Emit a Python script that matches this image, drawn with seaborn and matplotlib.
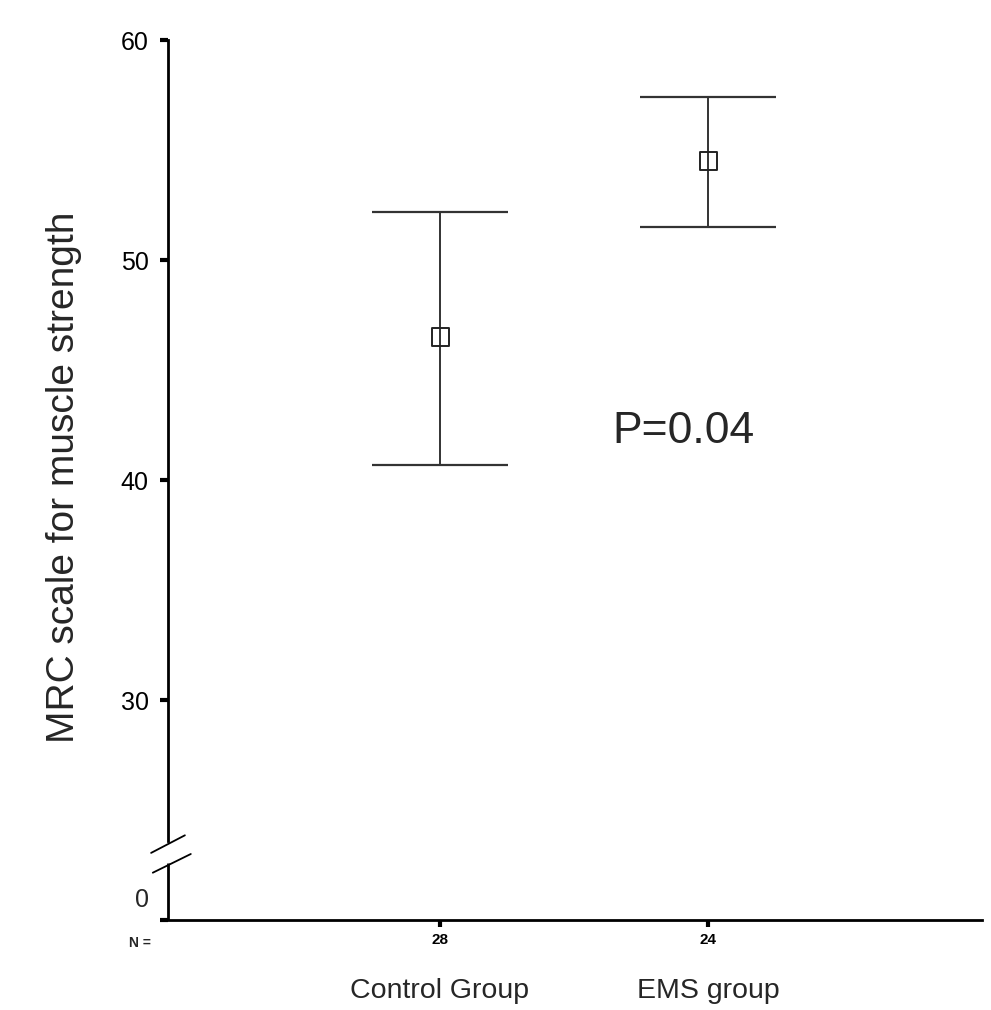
import matplotlib
matplotlib.use("Agg")
import matplotlib.pyplot as plt
import seaborn as sns
import pandas as pd
import numpy as np

# ---- data ----
groups = ["Control Group", "EMS group"]
n_values = ["28", "24"]
means = [46.5, 54.5]
ci_low = [40.7, 51.5]
ci_high = [52.2, 57.4]
ytick_values = [30, 40, 50, 60]
ytick_labels = ["30", "40", "50", "60"]
p_text = "P=0.04"
ylabel = "MRC scale for muscle strength"

sns.set_theme(style="white")
plt.rcParams['font.family'] = ['Liberation Sans', 'DejaVu Sans']

fig = plt.figure(figsize=(9.91, 10.10), dpi=100)
ax = fig.add_axes([168/991, 1-920/1010, (982-168)/991, 880/1010])

df = pd.DataFrame({"group": groups, "mean": means})
pos = np.arange(len(groups))
lo = np.array(means) - np.array(ci_low)
hi = np.array(ci_high) - np.array(means)
ax.errorbar(pos, means, yerr=[lo, hi], fmt="none", ecolor="#333333",
            elinewidth=1.4, capsize=49, capthick=1.6, zorder=2)
sns.scatterplot(data=df, x="group", y="mean", marker="s", s=150,
                facecolor="none", edgecolor="#222222", linewidth=1.4, ax=ax, zorder=3)

ax.set_xlim(-1.015, 2.022)
ax.set_ylim(20, 60)

for s in ["top", "right"]:
    ax.spines[s].set_visible(False)
ax.spines["left"].set_bounds(23.6, 60)
ax.spines["left"].set_linewidth(2)
ax.spines["bottom"].set_linewidth(2)
ax.spines["left"].set_color("black")
ax.spines["bottom"].set_color("black")
# lower piece of left spine below the break
ax.plot([-1.015, -1.015], [20, 22.6], color="black", lw=2, clip_on=False, solid_capstyle="butt")
# break marks
x0 = -1.015
dx = 0.063
ax.plot([x0 - dx, x0 + dx], [23.05, 23.85], color="black", lw=1.3, clip_on=False)
ax.plot([x0 - dx*0.9, x0 + dx*1.35], [22.15, 23.0], color="black", lw=1.3, clip_on=False)

ax.set_yticks(ytick_values + [20])
ax.set_yticklabels(ytick_labels + [""], fontsize=18)
ax.tick_params(axis="y", direction="out", length=6, width=3, pad=8, left=True, colors="black")
ax.text(-1.085, 20.9, "0", fontsize=18, ha="right", va="center")

ax.set_xticks(pos)
ax.set_xticklabels(n_values, fontsize=11, fontweight="bold")
ax.tick_params(axis="x", direction="out", length=5, width=3, pad=4, bottom=True, colors="black")
ax.set_xlabel("")
ax.set_ylabel(ylabel, fontsize=28)
ax.yaxis.set_label_coords(-0.106, 0.503)

for i, g in enumerate(groups):
    ax.text(pos[i], 16.75, g, fontsize=20.5, ha="center", va="center")
ax.text(-1.08, 18.95, "N =", fontsize=10, fontweight="bold", ha="right", va="center")

ax.text(0.642, 42.2, p_text, fontsize=32, ha="left", va="center")

fig.savefig("out.png", dpi=100)
